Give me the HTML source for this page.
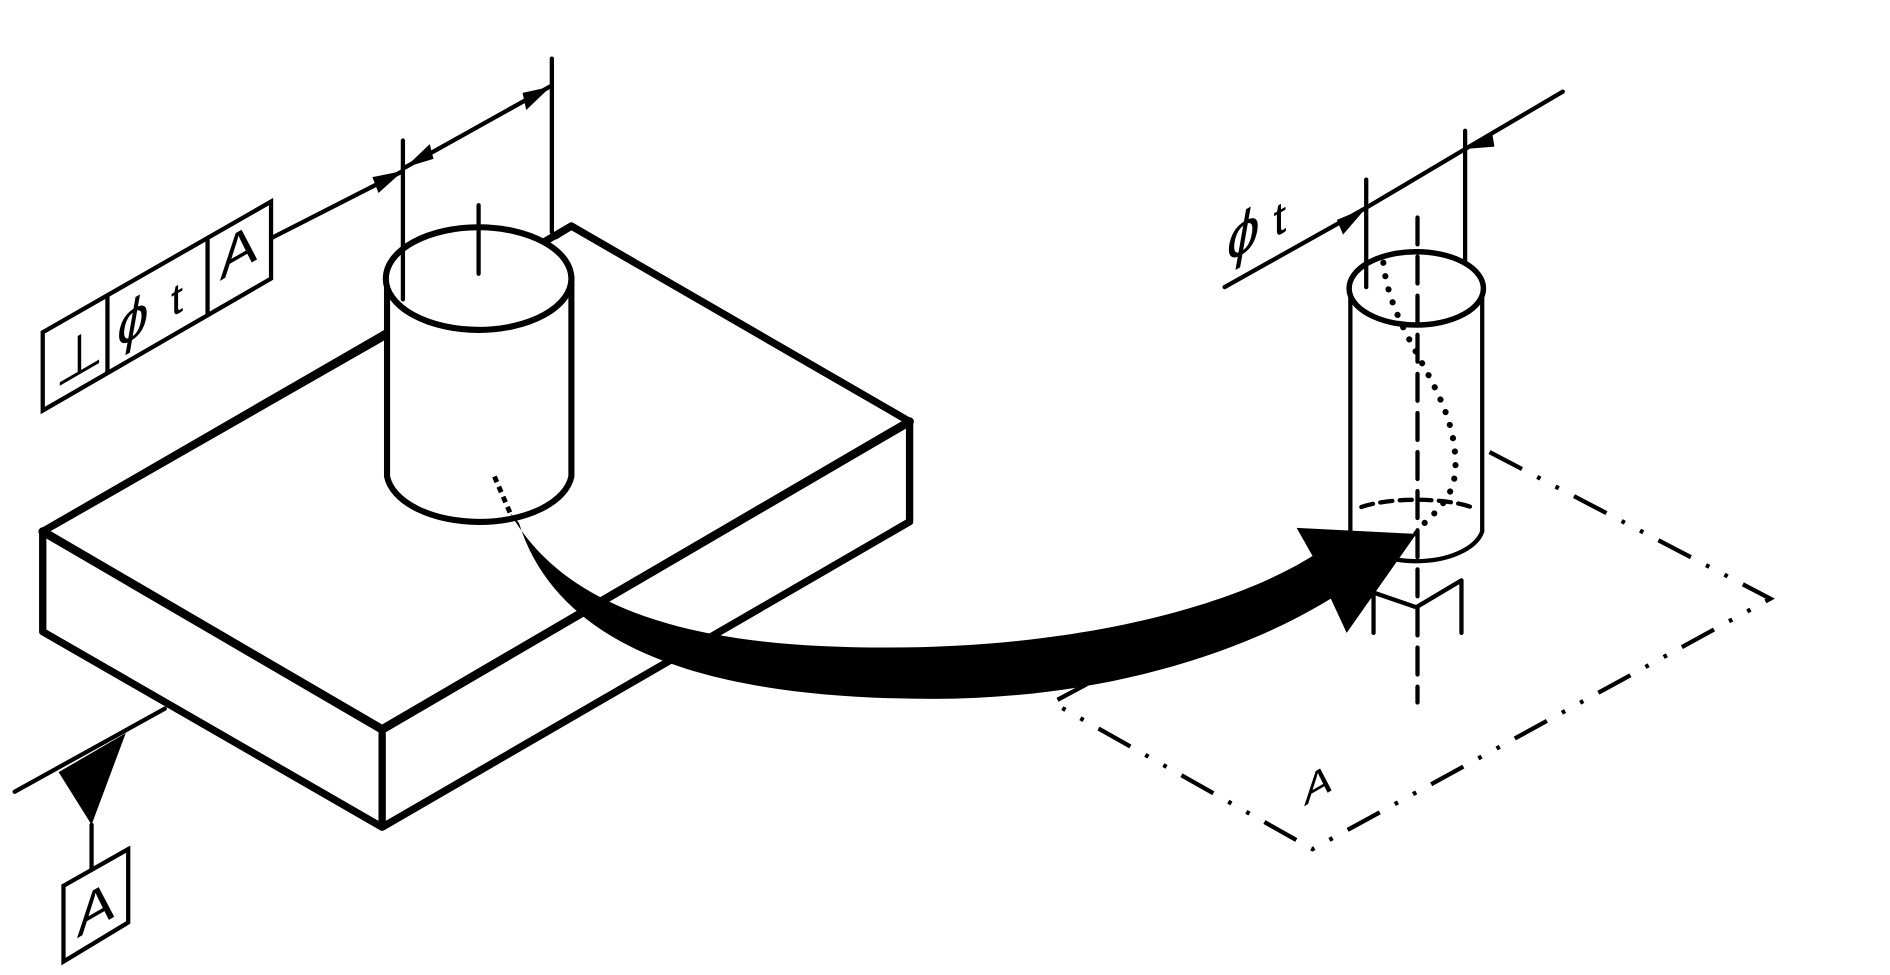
<!DOCTYPE html>
<html><head><meta charset="utf-8"><style>
html,body{margin:0;padding:0;background:#fff;}
svg{display:block;}
text{font-family:"Liberation Sans",sans-serif;}
</style></head><body>
<svg width="1890" height="975" viewBox="0 0 1548 798" preserveAspectRatio="none" xmlns="http://www.w3.org/2000/svg">
<rect width="1548" height="798" fill="#fff"/>
<g fill="none" stroke="#000" stroke-linejoin="round" stroke-linecap="round">
<!-- plate -->
<path d="M35,435 L315,275 M468,185 L745,345 L313,597 L35,435 Z" stroke-width="6"/>
<path d="M35,435 L35,517 L313,677 L745,427 L745,345 M313,597 L313,677" stroke-width="6"/>
<path d="M35,435 L313,597 L745,345" stroke-width="7"/>
<path d="M468,185 L455,193" stroke-width="6"/>
</g>
<!-- left cylinder -->
<g stroke="#000" stroke-width="5" fill="#fff">
<path d="M317,228 L317,390 A76,42 0 0 0 468,390 L468,228 Z"/>
<ellipse cx="392" cy="228" rx="76" ry="42"/>
</g>
<g stroke="#000" stroke-width="3.5" fill="none" stroke-linecap="round">
<line x1="392" y1="168" x2="392" y2="224"/>
<line x1="330" y1="115" x2="330" y2="245"/>
<line x1="452" y1="48" x2="452" y2="190"/>
<line x1="222" y1="195" x2="330" y2="140"/>
<line x1="330" y1="138" x2="452" y2="70"/>
<!-- FCF -->
<path d="M35,272 L222,165 L222,228 L35,336 Z"/>
<line x1="88" y1="242" x2="88" y2="305"/>
<line x1="170" y1="195" x2="170" y2="258"/>
<!-- datum -->
<line x1="12" y1="648" x2="135" y2="580"/>
<line x1="75" y1="675" x2="75" y2="712"/>
<path d="M52,725 L105,695 L105,755 L52,787 Z"/>
</g>
<g fill="#000">
<path d="M330,140 L305,145 L310,158 Z"/>
<path d="M332,137 L352,118 L355,130 Z"/>
<path d="M451,71 L428,76 L431,90 Z"/>
<path d="M48,632 L103,600 L75,675 Z"/>
</g>
<g font-size="46" fill="#000">
<text transform="translate(45,318) skewX(0) skewY(-30)">⊥</text>
<text transform="translate(96,285) skewY(-30)" font-style="italic">ϕ</text>
<text transform="translate(140,260) skewY(-30)" font-size="36">t</text>
<text transform="translate(180,230) skewY(-30)">A</text>
<text transform="translate(63,768) skewY(-30)">A</text>
</g>
<!-- datum plane -->
<path d="M1220,370 L1450,490 L1075,695 L862,575 L890,560" fill="none" stroke="#000" stroke-width="3.5" stroke-dasharray="30,14,3,14,3,14"/>
<text transform="translate(1070,668) skewY(30) rotate(-60 0 0)" font-size="34" fill="#000"></text>
<text transform="translate(1068,660) skewY(-30)" font-size="34" fill="#000">A</text>
<!-- right cylinder -->
<g stroke="#000" stroke-width="3.5" fill="none" stroke-linecap="round">
<path d="M1106,236 L1106,435 A55,30 0 0 0 1214,435 L1214,236"/>
<ellipse cx="1160" cy="236" rx="55" ry="30" fill="#fff" stroke-width="4.5"/>
<path d="M1115,415 A55,14 0 0 1 1205,415" stroke-dasharray="10,6"/>
<line x1="1161" y1="178" x2="1161" y2="575" stroke-dasharray="22,10"/>
<line x1="1119" y1="147" x2="1119" y2="235"/>
<line x1="1200" y1="107" x2="1200" y2="215"/>
<line x1="1003" y1="235" x2="1119" y2="170"/>
<line x1="1119" y1="170" x2="1200" y2="122"/>
<line x1="1200" y1="122" x2="1280" y2="75"/>
<path d="M1125,478 L1125,518 M1197,475 L1197,518 M1125,485 L1160,497 L1197,475"/>
<path d="M1133,215 C1140,280 1195,320 1192,385 C1190,415 1165,425 1160,437" stroke-width="5" stroke-dasharray="0.1,11"/>
</g>
<g fill="#000">
<path d="M1119,170 L1095,180 L1100,192 Z"/>
<path d="M1200,122 L1222,108 L1224,120 Z"/>
</g>
<g font-size="48" fill="#000">
<text transform="translate(1005,215) skewY(-30)" font-style="italic">ϕ</text>
<text transform="translate(1043,195) skewY(-30)" font-size="38">t</text>
</g>
<!-- big arrow -->
<line x1="405" y1="390" x2="420" y2="425" stroke="#000" stroke-width="4" stroke-dasharray="5,4"/>
<path d="M418,420 C470,512 600,530 725,530 C900,530 1020,490 1075,455 L1062,432 L1160,437 L1103,518 L1090,490 C1000,545 880,572 765,572 C600,572 460,540 425,428 Z" fill="#000"/>
</svg>
</body></html>
